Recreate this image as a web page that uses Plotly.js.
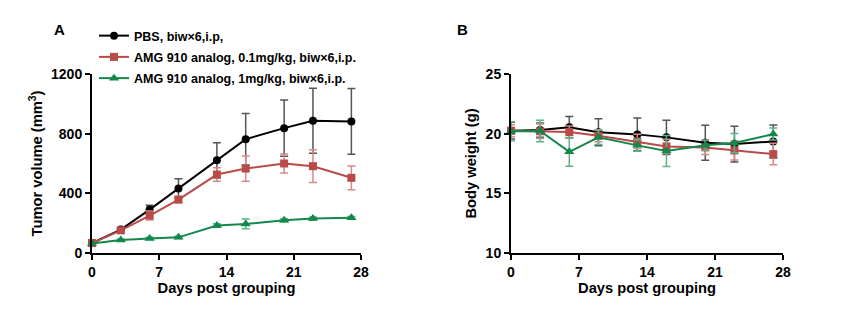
<!DOCTYPE html>
<html>
<head>
<meta charset="utf-8">
<script src="https://cdn.plot.ly/plotly-3.0.1.min.js"></script>
<style>html,body{margin:0;padding:0;background:#fff;}#chart{width:847px;height:329px;}</style>
</head>
<body>
<div id="chart"></div>
<script>
// ---- data ----
const days = [0, 3, 6, 9, 13, 16, 20, 23, 27];
const groupNames = ["PBS, biw×6,i.p,", "AMG 910 analog, 0.1mg/kg, biw×6,i.p.", "AMG 910 analog, 1mg/kg, biw×6,i.p."];

const tumorPBS = [67, 157, 291, 432, 622, 763, 837, 886, 882];
const tumorPBSErr = [6, 10, 29, 65, 117, 173, 188, 218, 220];
const tumorLow = [67, 152, 251, 358, 526, 566, 600, 582, 504];
const tumorLowErr = [6, 10, 30, 20, 45, 85, 63, 110, 80];
const tumorHigh = [63, 87, 98, 105, 184, 195, 219, 231, 237];
const tumorHighErr = [4, 6, 8, 8, 12, 33, 10, 10, 8];

const weightPBS = [20.25, 20.3, 20.53, 20.11, 19.94, 19.69, 19.24, 19.13, 19.35];
const weightPBSErr = [0.7, 0.6, 0.9, 1.13, 1.38, 1.43, 1.46, 1.5, 1.38];
const weightLow = [20.25, 20.2, 20.14, 19.83, 19.35, 18.93, 18.85, 18.6, 18.29];
const weightLowErr = [0.5, 0.6, 0.5, 0.5, 0.6, 0.6, 0.6, 0.8, 0.9];
const weightHigh = [20.2, 20.22, 18.48, 19.69, 19.02, 18.54, 19.02, 19.21, 19.97];
const weightHighErr = [0.8, 0.9, 1.2, 0.6, 0.5, 1.3, 0.4, 0.8, 0.5];

const xTicks = [0, 7, 14, 21, 28];
const yTicksA = [0, 400, 800, 1200];
const yTicksB = [10, 15, 20, 25];

// ---- styles ----
const colors = ["#000000", "#b94a48", "#13884a"];
const errColors = ["#555555", "#d38a88", "#5fb487"];
const symbols = ["circle", "square", "triangle-up"];
const sizes = [8, 8, 9];
const FONT = "Liberation Sans, Arial, sans-serif";

function tr(y, err, i, xa, ya, legend) {
  return {
    x: days, y: y, type: "scatter", mode: "lines+markers",
    name: groupNames[i], legendgroup: "g" + i, showlegend: legend,
    xaxis: xa, yaxis: ya, cliponaxis: false,
    line: {color: colors[i], width: 2},
    marker: {color: colors[i], symbol: symbols[i], size: sizes[i]},
    error_y: {type: "data", array: err, visible: true, color: errColors[i], thickness: 1.5, width: 4}
  };
}

const data = [
  tr(tumorPBS, tumorPBSErr, 0, "x", "y", true),
  tr(tumorLow, tumorLowErr, 1, "x", "y", true),
  tr(tumorHigh, tumorHighErr, 2, "x", "y", true),
  tr(weightPBS, weightPBSErr, 0, "x2", "y2", false),
  tr(weightLow, weightLowErr, 1, "x2", "y2", false),
  tr(weightHigh, weightHighErr, 2, "x2", "y2", false)
];

const tickFont = {family: FONT, size: 14, color: "#000", weight: "bold"};
const titleFont = {family: FONT, size: 14.7, color: "#000", weight: "bold"};

function xax(domain, anchor) {
  return {
    domain: domain, anchor: anchor, range: [0, 28], tickvals: xTicks,
    showline: true, linewidth: 2, linecolor: "#000", ticks: "outside", ticklen: 5, tickwidth: 2, tickcolor: "#000",
    showgrid: false, zeroline: false, tickfont: tickFont,
    title: {text: "Days post grouping", font: titleFont, standoff: 2}
  };
}
function yax(domain, anchor, range, ticks, title) {
  return {
    domain: domain, anchor: anchor, range: range, tickvals: ticks,
    showline: true, linewidth: 2, linecolor: "#000", ticks: "outside", ticklen: 5, tickwidth: 2, tickcolor: "#000",
    showgrid: false, zeroline: false, tickfont: tickFont,
    title: {text: title, font: titleFont, standoff: 5}
  };
}

const layout = {
  width: 847, height: 329,
  margin: {l: 0, r: 0, t: 0, b: 0},
  paper_bgcolor: "#fff", plot_bgcolor: "#fff",
  showlegend: true,
  xaxis: xax([92/847, 361/847], "y"),
  yaxis: yax([76/329, 255/329], "x", [0, 1200], yTicksA, "Tumor volume (mm<sup>3</sup>)"),
  xaxis2: xax([511/847, 783/847], "y2"),
  yaxis2: yax([76/329, 255/329], "x2", [10, 25], yTicksB, "Body weight (g)"),
  legend: {
    x: 94/847, y: 1 - 21/329, xanchor: "left", yanchor: "top",
    bgcolor: "rgba(0,0,0,0)", font: {family: FONT, size: 12.5, color: "#000", weight: "bold"},
    tracegroupgap: 2, itemwidth: 30
  },
  annotations: [
    {text: "A", x: 52/847, y: 1 - 30/329, xref: "paper", yref: "paper", xanchor: "left", yanchor: "middle", showarrow: false,
     font: {family: FONT, size: 15, color: "#000", weight: "bold"}},
    {text: "B", x: 455/847, y: 1 - 30/329, xref: "paper", yref: "paper", xanchor: "left", yanchor: "middle", showarrow: false,
     font: {family: FONT, size: 15, color: "#000", weight: "bold"}}
  ]
};

Plotly.newPlot("chart", data, layout, {displayModeBar: false, staticPlot: true});
</script>
</body>
</html>
